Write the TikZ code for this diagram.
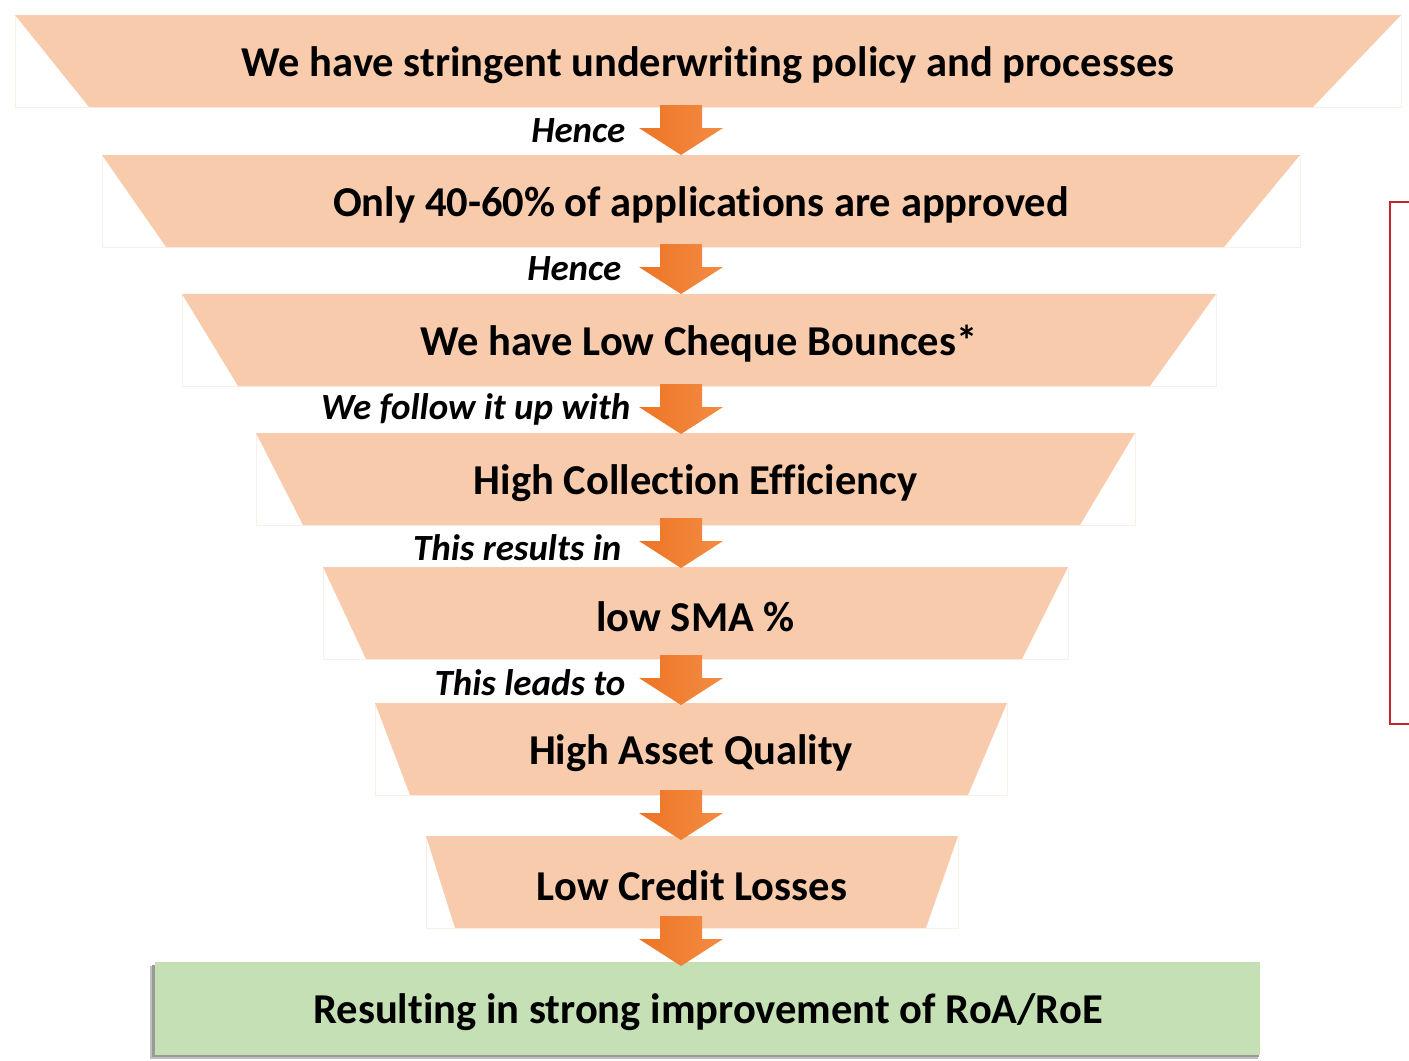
\documentclass[tikz,border=0pt]{standalone}
\usepackage{fontspec}
\setmainfont[Ligatures=NoCommon]{Carlito}
\definecolor{peach}{HTML}{F8CBAD}
\definecolor{peachrim}{HTML}{FDEFE6}
\definecolor{mint}{HTML}{C5E0B4}
\definecolor{orangeL}{HTML}{EE7424}
\definecolor{orangeR}{HTML}{F38C44}
\definecolor{bracketred}{HTML}{C0262D}
\tikzset{
  rimline/.style={draw=peachrim, line width=0.25pt},
  maintext/.style={font=\fontsize{12.1}{14}\selectfont\bfseries, text=black, inner sep=0pt},
  steptext/.style={font=\fontsize{10.5}{12}\selectfont\bfseries\itshape, text=black, inner sep=0pt, anchor=east},
  flowarrow/.style={left color=orangeL, right color=orangeR, draw=none},
}
% name, ytop, ybot, xleft, xright, bottomleft, bottomright, text
\newcommand\funneltrap[8]{%
  \draw[rimline] (#4,#2) rectangle (#5,#3);
  \fill[peach] (#4,#2) -- (#5,#2) -- (#7,#3) -- (#6,#3) -- cycle;
  \node[maintext] (#1) at ({(#4+#5)/2},{(#2+#3)/2+4}) {#8};
}
% name, ytop
\newcommand\funnelarrow[2]{%
  \shade[flowarrow] (660,#2) -- (702,#2) -- (702,#2+23) -- (723,#2+23) -- (681,#2+50) -- (639,#2+23) -- (660,#2+23) -- cycle;
  \coordinate (#1) at (681,#2+50);
}
\begin{document}
\begin{tikzpicture}[x=0.01cm,y=-0.01cm]
\useasboundingbox (0,0) rectangle (1409,1060);

\funneltrap{t1}{15}{107}{15}{1401}{89}{1313}{We have stringent underwriting policy and processes}
\funneltrap{t2}{155}{247}{102}{1300}{166}{1224}{Only 40-60\% of applications are approved}
\funneltrap{t3}{294}{386}{182}{1216}{238}{1150}{We have Low Cheque Bounces*}
\funneltrap{t4}{433}{525}{256}{1135}{303}{1080}{High Collection Efficiency}
\funneltrap{t5}{567}{659}{323}{1068}{366}{1022}{low SMA \%}
\funneltrap{t6}{703}{795}{375}{1007}{410}{968}{High Asset Quality}
\funneltrap{t7}{836}{928}{426}{958}{455}{926}{Low Credit Losses}

% result box with soft shadow
\fill[black!25] (150,966) rectangle (1258,1059);
\fill[black!40] (152,965) rectangle (1259,1057);
\fill[mint] (155,962) rectangle (1260,1055);
\node[maintext] (res) at (708,1012) {Resulting in strong improvement of RoA/RoE};

% arrows
\funnelarrow{a1}{105}
\funnelarrow{a2}{244}
\funnelarrow{a3}{384}
\funnelarrow{a4}{518}
\funnelarrow{a5}{655}
\funnelarrow{a6}{790}
\funnelarrow{a7}{916}

% labels
\node[steptext] (l1) at (626,131) {Hence};
\node[steptext] (l2) at (622,269) {Hence};
\node[steptext] (l3) at (631,409) {We follow it up with};
\node[steptext] (l4) at (622,548) {This results in};
\node[steptext] (l5) at (626,683) {This leads to};

% bracket
\coordinate (b1) at (1409,202);
\coordinate (b2) at (1390,202);
\coordinate (b3) at (1390,724);
\coordinate (b4) at (1409,724);
\draw[bracketred, line width=0.6pt] (b1) -- (b2) -- (b3) -- (b4);
\end{tikzpicture}
\end{document}
